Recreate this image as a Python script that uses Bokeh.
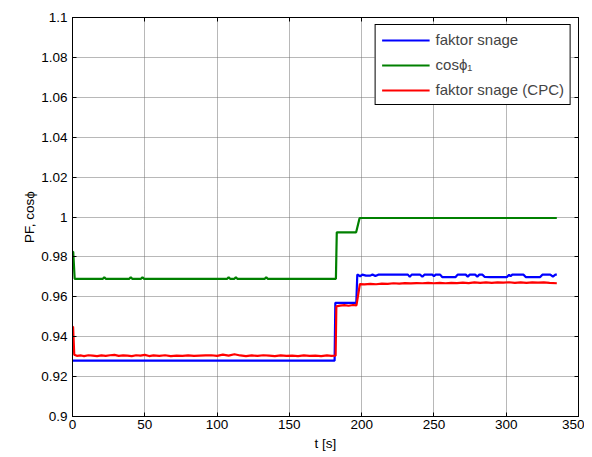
from bokeh.plotting import figure
from bokeh.models import LinearAxis, FixedTicker, Range1d, Legend, LegendItem, CustomJSTickFormatter
from bokeh.embed import file_html
from bokeh.resources import INLINE

# ---- data ----
x_ticks = [0, 50, 100, 150, 200, 250, 300, 350]
x_tick_labels = ["0", "50", "100", "150", "200", "250", "300", "350"]
y_ticks = [0.9, 0.92, 0.94, 0.96, 0.98, 1.0, 1.02, 1.04, 1.06, 1.08, 1.1]
y_tick_labels = ["0.9", "0.92", "0.94", "0.96", "0.98", "1", "1.02", "1.04", "1.06", "1.08", "1.1"]

series_names = ["faktor snage", "cos\u03d5\u2081", "faktor snage (CPC)"]
series_colors = ["#0000FF", "#008000", "#FF0000"]

# faktor snage (blue): (t, value)
blue_pts = [(0, 0.928), (181.3, 0.928), (181.8, 0.957), (196.3, 0.957), (197.0, 0.9712),
            (199, 0.9703), (200.5, 0.9711), (203, 0.9706), (206, 0.9706), (207.5, 0.9712),
            (209.5, 0.9704), (211.5, 0.9711), (232, 0.9711), (233.3, 0.9700), (234.6, 0.9711),
            (240.5, 0.9711), (242, 0.9700), (243.4, 0.9711), (249, 0.9711), (250, 0.9703),
            (251.2, 0.9711), (254.3, 0.9711), (255.7, 0.9699), (265, 0.9699), (266.4, 0.9711),
            (272, 0.9711), (273.4, 0.9701), (274.8, 0.9711), (278.5, 0.9711), (280, 0.9701),
            (281.4, 0.9711), (283.6, 0.9711), (285, 0.9700), (289, 0.9699), (300.5, 0.9699),
            (302, 0.9711), (303, 0.9703), (304.2, 0.9711), (312, 0.9711), (313.5, 0.9699),
            (323.5, 0.9699), (325, 0.9711), (330.5, 0.9711), (332.3, 0.9701), (334, 0.9711),
            (335, 0.9711)]

# cos phi_1 (green)
green_pts = [(0, 0.9825), (0.5, 0.9825), (1.5, 0.969), (21, 0.969), (22, 0.9698), (23, 0.969),
             (39.3, 0.969), (40.3, 0.9698), (41.3, 0.969), (47.4, 0.969), (48.4, 0.9698),
             (49.4, 0.969), (107, 0.969), (108, 0.9698), (109, 0.969), (112, 0.969),
             (113, 0.9698), (114, 0.969), (133, 0.969), (134, 0.9698), (135, 0.969),
             (182.2, 0.969), (182.8, 0.9923), (196.2, 0.9923), (198.6, 0.9995), (335, 0.9995)]

# faktor snage (CPC) (red)
red_pts = [(0, 0.945), (0.4, 0.945), (1.2, 0.9310), (3, 0.9304), (6, 0.9306), (8, 0.9303),
           (11, 0.9307), (14, 0.9305), (17, 0.9303), (20, 0.9306), (23, 0.9304), (26, 0.9307),
           (29, 0.9309), (32, 0.9304), (35, 0.9306), (38, 0.9305), (41, 0.9303), (44, 0.9307),
           (47, 0.9305), (50, 0.9309), (53, 0.9303), (56, 0.9306), (60, 0.9304), (64, 0.9307),
           (68, 0.9303), (72, 0.9305), (76, 0.9304), (80, 0.9306), (84, 0.9304), (88, 0.9305),
           (92, 0.9306), (96, 0.9307), (100, 0.9304), (104, 0.9310), (108, 0.9305), (112, 0.9312),
           (116, 0.9306), (120, 0.9303), (124, 0.9306), (128, 0.9304), (132, 0.9307), (136, 0.9305),
           (140, 0.9303), (144, 0.9306), (148, 0.9304), (152, 0.9305), (156, 0.9303), (160, 0.9306),
           (164, 0.9304), (168, 0.9305), (172, 0.9303), (176, 0.9306), (179, 0.9304), (182.0, 0.9305),
           (182.5, 0.9552), (185, 0.9556), (188, 0.9558), (191, 0.9555), (194, 0.9559),
           (196.4, 0.9557), (198.8, 0.9664), (202, 0.9662), (206, 0.9665), (210, 0.9663),
           (214, 0.9666), (218, 0.9665), (222, 0.9668), (226, 0.9666), (230, 0.9669), (234, 0.9667),
           (238, 0.9669), (242, 0.9668), (246, 0.9670), (250, 0.9668), (254, 0.9670), (258, 0.9668),
           (262, 0.9670), (266, 0.9669), (270, 0.9671), (274, 0.9669), (278, 0.9672), (282, 0.9670),
           (286, 0.9672), (290, 0.9670), (294, 0.9672), (298, 0.9671), (302, 0.9673), (306, 0.9670),
           (310, 0.9672), (314, 0.9670), (318, 0.9672), (322, 0.9671), (326, 0.9672), (330, 0.9670),
           (335, 0.9668)]

FONT = "Liberation Sans"

p = figure(frame_width=506, frame_height=399,
           x_range=Range1d(0, 350), y_range=Range1d(0.9, 1.1),
           output_backend="svg", toolbar_location=None,
           min_border_left=72, min_border_top=17, min_border_right=6, min_border_bottom=33,
           background_fill_color="white", border_fill_color="white")

p.outline_line_color = "black"
p.outline_line_width = 1
p.outline_line_alpha = 1

# axes
p.xaxis.ticker = FixedTicker(ticks=x_ticks)
p.yaxis.ticker = FixedTicker(ticks=y_ticks)
p.xaxis.major_label_overrides = dict(zip(x_ticks, x_tick_labels))
p.yaxis.major_label_overrides = dict(zip(y_ticks, y_tick_labels))

for ax in (p.xaxis[0], p.yaxis[0]):
    ax.major_tick_in = 4
    ax.major_tick_out = 0
    ax.minor_tick_line_color = None
    ax.axis_line_color = "black"
    ax.major_tick_line_color = "black"
    ax.major_label_text_font = FONT
    ax.major_label_text_font_size = "13.5px"
    ax.major_label_text_color = "black"
    ax.axis_label_text_font = FONT
    ax.axis_label_text_font_size = "13.5px"
    ax.axis_label_text_font_style = "normal"
    ax.axis_label_text_color = "black"

p.xaxis.axis_label = "t [s]"
p.yaxis.axis_label = "PF, cos\u03d5"
p.xaxis.major_label_standoff = 3
p.xaxis.axis_label_standoff = 4
p.yaxis.major_label_standoff = 5
p.yaxis.axis_label_standoff = 1

blank = CustomJSTickFormatter(code="return '';")
for loc, ticks in (("right", y_ticks), ("above", x_ticks)):
    ax = LinearAxis(ticker=FixedTicker(ticks=ticks), formatter=blank)
    ax.major_tick_in = 4
    ax.major_tick_out = 0
    ax.minor_tick_line_color = None
    ax.major_label_standoff = 0
    ax.axis_line_color = "black"
    p.add_layout(ax, loc)

# grid
p.xgrid.ticker = FixedTicker(ticks=x_ticks)
p.ygrid.ticker = FixedTicker(ticks=y_ticks)
p.grid.grid_line_color = "#707070"
p.grid.grid_line_dash = "1 1"
p.grid.grid_line_width = 1

# lines
renderers = []
for pts, color in zip((blue_pts, green_pts, red_pts), series_colors):
    t, y = zip(*pts)
    r = p.line(list(t), list(y), line_color=color, line_width=2.2)
    renderers.append(r)

legend = Legend(items=[LegendItem(label=n, renderers=[r]) for n, r in zip(series_names, renderers)],
                location="top_right")
legend.border_line_color = "black"
legend.border_line_width = 1
legend.border_line_alpha = 1
legend.background_fill_color = "white"
legend.background_fill_alpha = 1
legend.label_text_font = FONT
legend.label_text_font_size = "15px"
legend.glyph_width = 48
legend.glyph_height = 16
legend.label_height = 16
legend.label_standoff = 6
legend.padding = 6
legend.spacing = 8
legend.margin = 7
p.add_layout(legend)

open("out.html", "w").write(file_html(p, INLINE))
